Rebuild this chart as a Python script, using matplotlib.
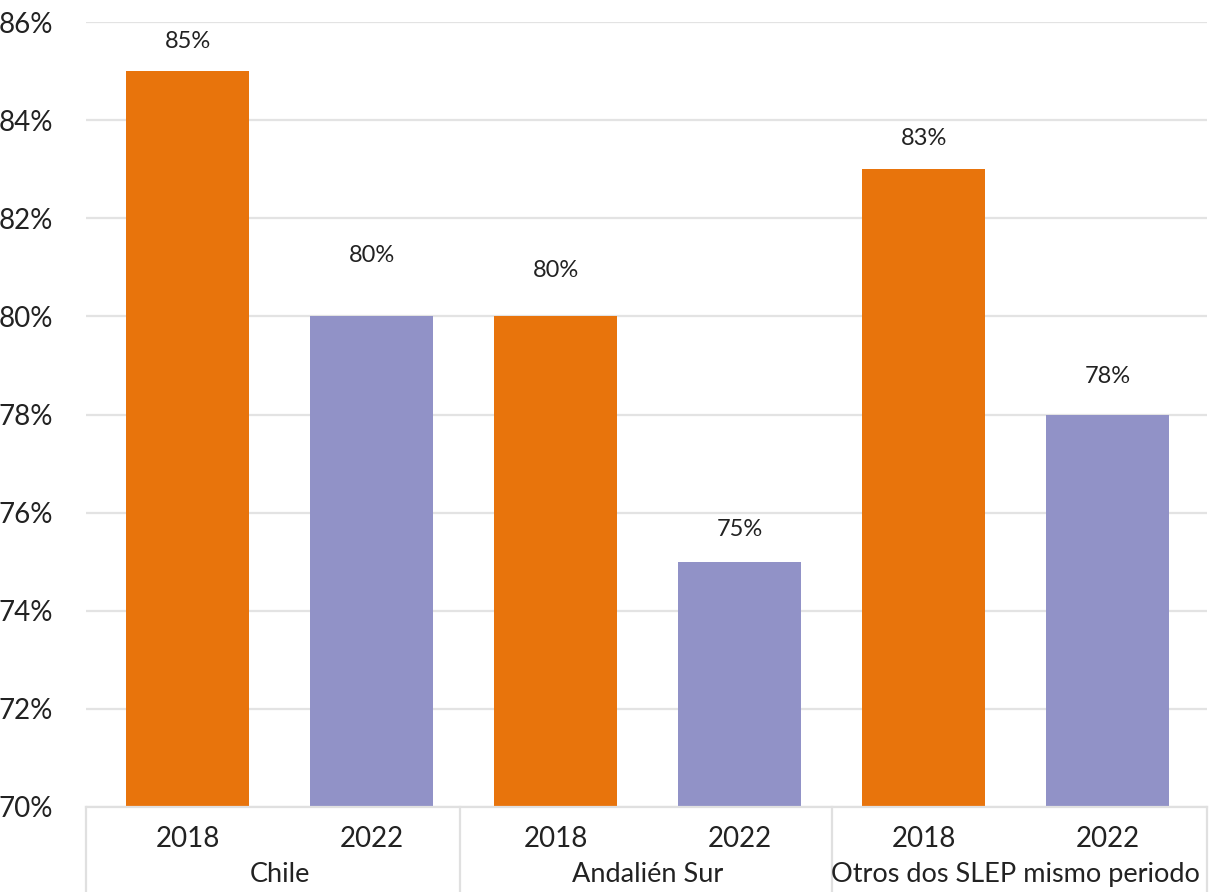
# -*- coding: utf-8 -*-

import matplotlib.pyplot as plt
from matplotlib.ticker import FuncFormatter

plt.rcParams['font.family'] = ['Lato', 'DejaVu Sans']

groups = ['Chile', 'Andalién Sur', 'Otros dos SLEP mismo periodo']
years = ['2018', '2022']
values = [85, 80, 80, 75, 83, 78]
bar_colors = ['#E8740C', '#9192C7']

# distance (px) of the value label above each bar, as in the original
label_offsets = [30, 61, 46, 32, 31, 38]

fig = plt.figure(figsize=(12.1, 8.92), dpi=100)
ax = fig.add_axes([0.0711, 0.0953, 0.9264, 0.880])

xpos = list(range(len(values)))
colors = [bar_colors[i % 2] for i in xpos]
ax.bar(xpos, [v - 70 for v in values], bottom=70, width=0.67, color=colors, zorder=2)

for x, v, off in zip(xpos, values, label_offsets):
    ax.annotate('{0}%'.format(v), xy=(x, v), xytext=(0, off * 0.72),
                textcoords='offset points', ha='center', va='center',
                fontsize=17, color='#222222')

ax.set_ylim(70, 86)
ax.set_yticks(range(70, 87, 2))
ax.yaxis.set_major_formatter(FuncFormatter(lambda y, p: '{0:.0f}%'.format(y)))
ax.set_xlim(-0.552, 5.54)
ax.grid(axis='y', color='#E3E3E3', linewidth=1.6, zorder=0)
ax.tick_params(axis='y', length=0, pad=24, labelsize=20, labelcolor='#222222')
ax.tick_params(axis='x', length=0, pad=14, labelsize=20, labelcolor='#222222')
ax.set_xticks(xpos)
ax.set_xticklabels(years * len(groups))

for side in ['left', 'right', 'top']:
    ax.spines[side].set_visible(False)
ax.spines['bottom'].set_color('#E0E0E0')
ax.spines['bottom'].set_linewidth(1.6)

# category labels and separators under the year labels
trans = ax.get_xaxis_transform()
for i, g in enumerate(groups):
    ax.text(2 * i + 0.5, -0.086, g, transform=trans, ha='center', va='center',
            fontsize=19.5, color='#222222')
for sx in [-0.552, 1.48, 3.5, 5.54]:
    ax.plot([sx, sx], [0, -0.11], transform=trans, color='#E0E0E0',
            linewidth=1.6, clip_on=False)

fig.savefig('out.png', dpi=100)
